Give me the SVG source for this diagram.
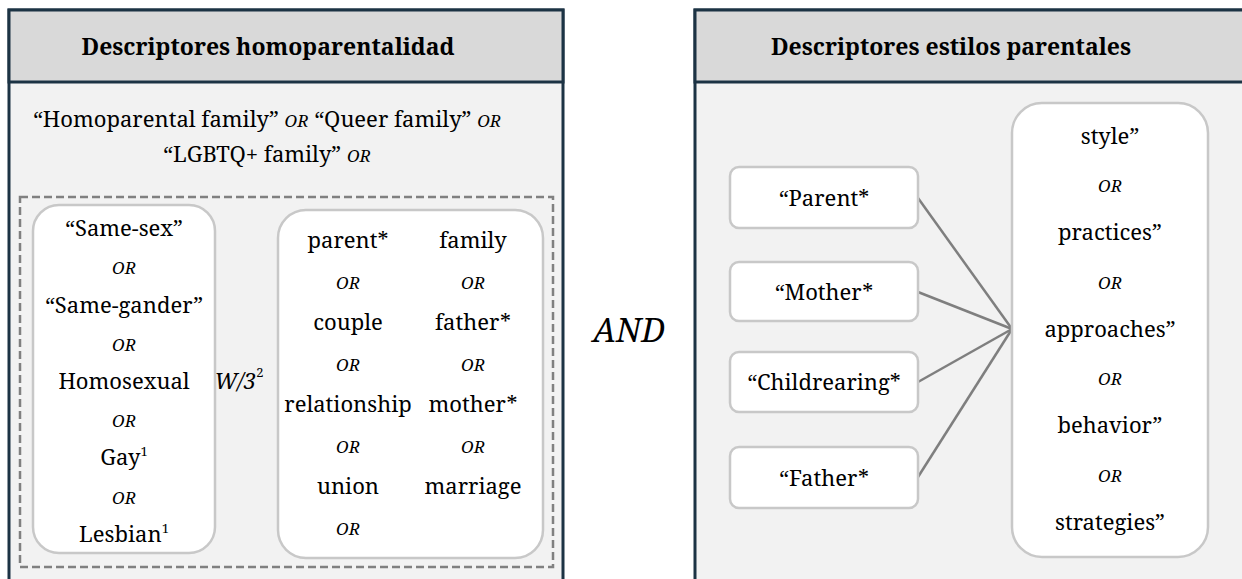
<svg xmlns="http://www.w3.org/2000/svg" width="1242" height="579" viewBox="0 0 1242 579">
<style>
.panel{fill:#f2f2f2;stroke:#1c3344;stroke-width:3}
.head{fill:#d9d9d9;stroke:#1c3344;stroke-width:3}
.box{fill:#ffffff;stroke:#c8c8c8;stroke-width:2.5}
.dash{fill:none;stroke:#808080;stroke-width:2.5;stroke-dasharray:8 4}
.conn{stroke:#7f7f7f;stroke-width:2.5;fill:none}
text{fill:#000;text-anchor:middle;font-family:'Noto Serif','DejaVu Serif',serif}
.h{font-size:23px;font-weight:bold}
.t{font-size:22px}
.or{font-size:17px;font-style:italic}
.and{font-size:33px;font-style:italic}
.sup{font-size:13px}
</style>
<rect width="1242" height="579" fill="#ffffff"/>

<g id="panel-left">
<rect class="panel" x="9" y="10" width="554" height="600"/>
<rect class="head" x="9" y="10" width="554" height="72"/>
<text class="h" x="268" y="55">Descriptores homoparentalidad</text>
<text class="t" x="267" y="127">“Homoparental family” <tspan class="or">OR</tspan> “Queer family” <tspan class="or">OR</tspan></text>
<text class="t" x="267" y="162">“LGBTQ+ family” <tspan class="or">OR</tspan></text>
<rect class="dash" x="20" y="197" width="533" height="370"/>
</g>

<g id="box-terms">
<rect class="box" x="33" y="205" width="182" height="348" rx="26"/>
<text class="t" x="124" y="236">“Same-sex”</text>
<text class="or" x="124" y="274">OR</text>
<text class="t" x="124" y="313">“Same-gander”</text>
<text class="or" x="124" y="351">OR</text>
<text class="t" x="124" y="389">Homosexual</text>
<text class="or" x="124" y="427">OR</text>
<text class="t" x="124" y="465">Gay<tspan class="sup" dy="-9">1</tspan></text>
<text class="or" x="124" y="504">OR</text>
<text class="t" x="124" y="542">Lesbian<tspan class="sup" dy="-9">1</tspan></text>
</g>

<g id="w3">
<text x="239" y="389" font-size="22" font-style="italic">W/3<tspan font-size="13" font-style="normal" dy="-12">2</tspan></text>
</g>

<g id="box-relations">
<rect class="box" x="278" y="210" width="265" height="348" rx="28"/>
<text class="t" x="348" y="248">parent*</text>
<text class="or" x="348" y="289">OR</text>
<text class="t" x="348" y="330">couple</text>
<text class="or" x="348" y="371">OR</text>
<text class="t" x="348" y="412">relationship</text>
<text class="or" x="348" y="453">OR</text>
<text class="t" x="348" y="494">union</text>
<text class="or" x="348" y="535">OR</text>
<text class="t" x="473" y="248">family</text>
<text class="or" x="473" y="289">OR</text>
<text class="t" x="473" y="330">father*</text>
<text class="or" x="473" y="371">OR</text>
<text class="t" x="473" y="412">mother*</text>
<text class="or" x="473" y="453">OR</text>
<text class="t" x="473" y="494">marriage</text>
</g>

<g id="and">
<text class="and" x="629" y="342">AND</text>
</g>

<g id="panel-right">
<rect class="panel" x="695" y="10" width="600" height="600"/>
<rect class="head" x="695" y="10" width="600" height="72"/>
<text class="h" x="951" y="55">Descriptores estilos parentales</text>
</g>

<g id="connectors">
<line class="conn" x1="918" y1="198" x2="1012" y2="329"/>
<line class="conn" x1="918" y1="292" x2="1012" y2="329"/>
<line class="conn" x1="918" y1="382" x2="1012" y2="329"/>
<line class="conn" x1="918" y1="477" x2="1012" y2="329"/>
</g>

<g id="node-parent">
<rect class="box" x="730" y="167" width="188" height="61" rx="9"/>
<text class="t" x="824" y="206">“Parent*</text>
</g>
<g id="node-mother">
<rect class="box" x="730" y="262" width="188" height="59" rx="9"/>
<text class="t" x="824" y="300">“Mother*</text>
</g>
<g id="node-childrearing">
<rect class="box" x="730" y="352" width="188" height="60" rx="9"/>
<text class="t" x="824" y="390">“Childrearing*</text>
</g>
<g id="node-father">
<rect class="box" x="730" y="447" width="188" height="61" rx="9"/>
<text class="t" x="824" y="486">“Father*</text>
</g>

<g id="node-styles">
<rect class="box" x="1012" y="103" width="196" height="454" rx="30"/>
<text class="t" x="1110" y="144">style”</text>
<text class="or" x="1110" y="192">OR</text>
<text class="t" x="1110" y="240">practices”</text>
<text class="or" x="1110" y="289">OR</text>
<text class="t" x="1110" y="337">approaches”</text>
<text class="or" x="1110" y="385">OR</text>
<text class="t" x="1110" y="433">behavior”</text>
<text class="or" x="1110" y="482">OR</text>
<text class="t" x="1110" y="530">strategies”</text>
</g>
</svg>
